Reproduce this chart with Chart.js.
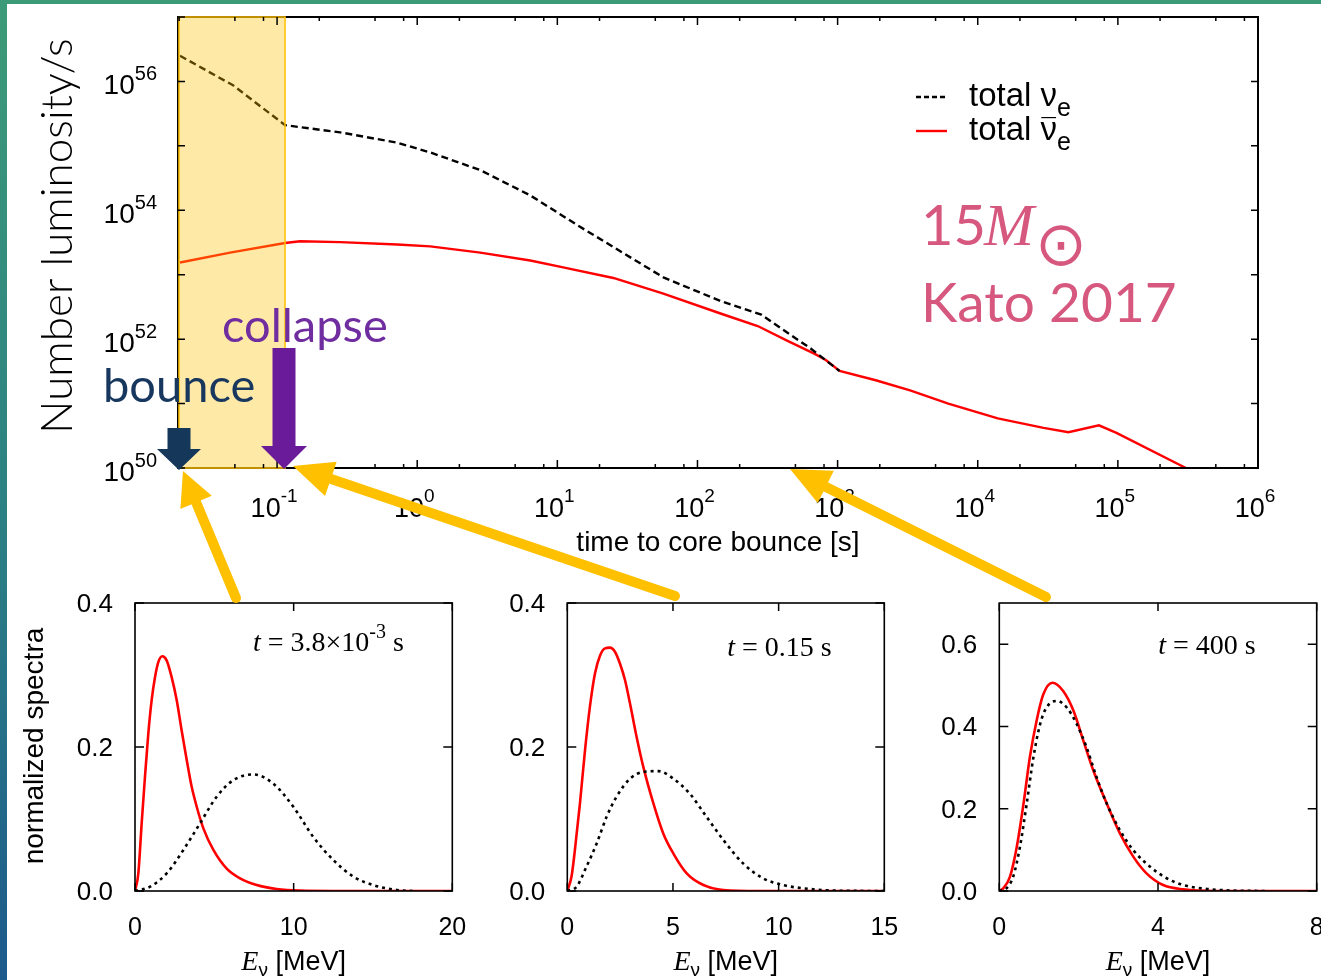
<!DOCTYPE html>
<html>
<head>
<meta charset="utf-8">
<script src="https://cdn.jsdelivr.net/npm/chart.js@4.4.1/dist/chart.umd.min.js"></script>
<style>
  html, body { margin: 0; padding: 0; }
  body {
    width: 1321px; height: 980px; overflow: hidden; position: relative;
    background: linear-gradient(180deg, #3c9b77 0%, #2b7f84 55%, #1d5a8c 100%);
  }
  #panel { position: absolute; left: 7px; top: 4px; right: 0; bottom: 0; background: #fff; }
  canvas { position: absolute; }
  #notes { left: 0; top: 0; pointer-events: none; z-index: 5; }
</style>
</head>
<body>
<div id="panel"></div>
<canvas id="main" width="1321" height="580" style="left:0;top:0"></canvas>
<canvas id="s1" width="470" height="400" style="left:0;top:580px"></canvas>
<canvas id="s2" width="440" height="400" style="left:470px;top:580px"></canvas>
<canvas id="s3" width="411" height="400" style="left:910px;top:580px"></canvas>
<canvas id="notes" width="1321" height="980"></canvas>

<script>
// ---- main panel: number luminosity vs time to core bounce ----
const nueTime = [0.0203, 0.0485, 0.114, 0.146, 0.282, 0.72, 1.24, 2.82, 6.41, 14.6, 33.2, 57.1, 146, 285, 389, 646, 804, 1033];
const nueLum  = [2.5e56, 8.7e55, 2.1e55, 1.95e55, 1.62e55, 1.12e55, 7.9e54, 4.2e54, 1.7e54, 5.5e53, 1.86e53, 9.1e52, 3.9e52, 2.4e52, 1.5e52, 7.1e51, 4.9e51, 3.2e51];
const anueTime = [0.0203, 0.0462, 0.114, 0.146, 0.282, 0.72, 1.24, 2.82, 6.41, 11.0, 25.1, 57.1, 146, 269, 443, 687, 828, 1033, 1871, 3289, 6166, 13900, 29500, 44400, 73300, 97700, 306000, 400000];
const anueLum  = [1.55e53, 2.2e53, 3.1e53, 3.3e53, 3.2e53, 2.95e53, 2.75e53, 2.2e53, 1.66e53, 1.3e53, 8.9e52, 5.1e52, 2.5e52, 1.6e52, 9.3e51, 5.9e51, 4.7e51, 3.2e51, 2.3e51, 1.6e51, 1.0e51, 5.9e50, 4.2e50, 3.6e50, 4.6e50, 3.5e50, 1.0e50, 7.5e49];
const timeDecades = [-1, 0, 1, 2, 3, 4, 5, 6];
const timeMinor = [2, 5, 8];
const lumDecades = [50, 51, 52, 53, 54, 55, 56, 57];
const lumLabelDecades = [50, 52, 54, 56];

// ---- spectra panels (E in MeV, normalized spectra) ----
const p1NueE  = [0, 0.95, 2.0, 3.05, 4.1, 5.15, 6.2, 7.46, 8.72, 9.98, 11.24, 12.5, 13.76, 15.0, 16.5, 17.5];
const p1NueF  = [0, 0.006, 0.0245, 0.057, 0.094, 0.131, 0.154, 0.162, 0.149, 0.117, 0.075, 0.043, 0.020, 0.0083, 0.0014, 0];
const p1AnueE = [0, 0.21, 0.42, 0.63, 0.84, 1.05, 1.26, 1.47, 1.72, 2.0, 2.31, 2.63, 2.94, 3.26, 3.57, 3.89, 4.31, 4.94, 5.78, 6.62, 7.67, 8.93, 10.4, 12.5, 20];
const p1AnueF = [0, 0.0245, 0.094, 0.159, 0.219, 0.265, 0.297, 0.318, 0.326, 0.320, 0.297, 0.265, 0.223, 0.182, 0.145, 0.117, 0.087, 0.057, 0.031, 0.0176, 0.0083, 0.0028, 0.0005, 0, 0];

const p2NueE  = [0, 0.44, 0.91, 1.39, 1.86, 2.33, 2.97, 3.6, 4.31, 5.02, 5.8, 6.59, 7.38, 8.33, 9.27, 10.2, 11.48, 12.74, 15];
const p2NueF  = [0, 0.006, 0.034, 0.066, 0.103, 0.131, 0.156, 0.1655, 0.1665, 0.156, 0.135, 0.103, 0.071, 0.038, 0.0176, 0.0083, 0.0028, 0.0005, 0];
const p2AnueE = [0, 0.2, 0.36, 0.6, 0.84, 1.07, 1.31, 1.55, 1.78, 2.02, 2.26, 2.49, 2.73, 2.97, 3.28, 3.6, 4.07, 4.54, 5.02, 5.65, 6.44, 7.38, 9.1, 15];
const p2AnueF = [0, 0.02, 0.057, 0.122, 0.196, 0.256, 0.302, 0.327, 0.337, 0.338, 0.332, 0.316, 0.293, 0.26, 0.214, 0.172, 0.122, 0.08, 0.052, 0.0245, 0.0083, 0.0014, 0, 0];

const p3NueE  = [0, 0.18, 0.35, 0.52, 0.69, 0.86, 1.03, 1.19, 1.45, 1.7, 1.95, 2.2, 2.45, 2.71, 3.04, 3.38, 3.8, 4.22, 4.64, 5.23, 5.9, 6.74];
const p3NueF  = [0, 0.0065, 0.035, 0.107, 0.212, 0.325, 0.406, 0.446, 0.462, 0.446, 0.406, 0.349, 0.277, 0.212, 0.148, 0.099, 0.059, 0.031, 0.0145, 0.005, 0.001, 0];
const p3AnueE = [0, 0.1, 0.27, 0.44, 0.61, 0.77, 0.94, 1.11, 1.34, 1.61, 1.87, 2.12, 2.37, 2.71, 3.04, 3.38, 3.71, 4.13, 4.64, 5.48, 8];
const p3AnueF = [0, 0.0065, 0.035, 0.107, 0.212, 0.325, 0.414, 0.478, 0.506, 0.486, 0.438, 0.365, 0.293, 0.212, 0.14, 0.083, 0.043, 0.0145, 0.004, 0, 0];

const SANS = '"Liberation Sans", Arial, sans-serif';
const SERIF = '"Liberation Serif", "Times New Roman", serif';
const SLIDE = 'Lato, "Open Sans", sans-serif';

const zip = (xs, ys) => xs.map((v, i) => ({ x: v, y: ys[i] }));

function rich(ctx, parts, x, y, align) {
  ctx.textAlign = 'left';
  let w = 0;
  parts.forEach(p => { ctx.font = p.font; p.w = ctx.measureText(p.t).width; w += p.w + (p.gap || 0); });
  let cx = align === 'center' ? x - w / 2 : align === 'right' ? x - w : x;
  parts.forEach(p => {
    ctx.font = p.font;
    ctx.fillText(p.t, cx, y + (p.dy || 0));
    cx += p.w + (p.gap || 0);
  });
  return cx;
}

// frame, inward ticks on all sides, labels, legend
const framePlugin = {
  id: 'frame',
  afterDatasetsDraw(chart, args, o) {
    const { ctx, chartArea: a, scales: { x, y } } = chart;
    ctx.save();
    if (o.shadeTo) {
      const xr = x.getPixelForValue(o.shadeTo);
      ctx.fillStyle = 'rgba(255,192,0,0.35)';
      ctx.fillRect(a.left, a.top, xr - a.left, a.bottom - a.top);
    }
    ctx.strokeStyle = '#000';
    ctx.lineWidth = o.frameWidth;
    ctx.strokeRect(a.left, a.top, a.right - a.left, a.bottom - a.top);
    if (o.shadeTo) {
      const xr = x.getPixelForValue(o.shadeTo);
      ctx.strokeStyle = '#ffc000';
      ctx.lineWidth = 1.5;
      ctx.strokeRect(a.left + 1, a.top, xr - a.left - 1, a.bottom - a.top);
      ctx.strokeStyle = '#000';
    }
    ctx.lineWidth = o.tickWidth;
    ctx.beginPath();
    o.xTicks.forEach(t => {
      const px = x.getPixelForValue(t.v);
      if (px < a.left - 0.5 || px > a.right + 0.5) return;
      ctx.moveTo(px, a.bottom); ctx.lineTo(px, a.bottom - t.len);
      ctx.moveTo(px, a.top); ctx.lineTo(px, a.top + t.len);
    });
    o.yTicks.forEach(t => {
      const py = y.getPixelForValue(t.v);
      ctx.moveTo(a.left, py); ctx.lineTo(a.left + t.len, py);
      ctx.moveTo(a.right, py); ctx.lineTo(a.right - t.len, py);
    });
    ctx.stroke();

    ctx.fillStyle = '#000';
    ctx.textBaseline = 'alphabetic';
    o.xTicks.forEach(t => {
      if (t.label == null) return;
      const px = x.getPixelForValue(t.v);
      if (t.pow) {
        rich(ctx, [{ t: '10', font: '27px ' + SANS }, { t: t.label, font: '19px ' + SANS, dy: -15 }], px - 3, a.bottom + o.xLabelDy, 'center');
      } else {
        rich(ctx, [{ t: t.label, font: '25px ' + SANS }], px, a.bottom + o.xLabelDy, 'center');
      }
    });
    o.yTicks.forEach(t => {
      if (t.label == null) return;
      const py = y.getPixelForValue(t.v);
      if (t.pow) {
        rich(ctx, [{ t: '10', font: '28px ' + SANS }, { t: t.label, font: '20px ' + SANS, dy: -14 }], a.left - 21, py + 13, 'right');
      } else {
        rich(ctx, [{ t: t.label, font: '26px ' + SANS }], a.left - 22, py + 9, 'right');
      }
    });

    if (o.xTitle) rich(ctx, o.xTitle, (a.left + a.right) / 2, o.xTitleY, 'center');
    if (o.yTitle) {
      ctx.save();
      ctx.translate(o.yTitle.x, o.yTitle.y);
      ctx.rotate(-Math.PI / 2);
      ctx.font = o.yTitle.font;
      ctx.textAlign = 'center';
      ctx.fillText(o.yTitle.text, 0, 0);
      ctx.restore();
    }
    if (o.note) rich(ctx, o.note.parts, a.left + o.note.dx, a.top + o.note.dy, 'left');

    if (o.legend) {
      chart.data.datasets.forEach((ds, i) => {
        const ly = o.legend.y + i * o.legend.step;
        ctx.strokeStyle = ds.borderColor;
        ctx.lineWidth = ds.borderWidth;
        ctx.setLineDash(ds.legendDash || []);
        ctx.beginPath();
        ctx.moveTo(o.legend.x, ly); ctx.lineTo(o.legend.x + 31, ly);
        ctx.stroke();
        ctx.setLineDash([]);
        ctx.fillStyle = '#000';
        const [word, sub] = ds.label.split('_');
        const nu = word.slice(-1);
        const F = '33px ' + SANS;
        const xNu = rich(ctx, [{ t: word.slice(0, -1), font: F }], o.legend.x + 53, ly + 9, 'left');
        ctx.font = F;
        const wNu = ctx.measureText(nu).width;
        ctx.fillText(nu, xNu, ly + 9);
        if (ds.bar) {
          ctx.textAlign = 'center';
          ctx.font = '26px ' + SANS;
          ctx.fillText('\u00AF', xNu + wNu / 2, ly + 6);
          ctx.textAlign = 'left';
        }
        rich(ctx, [{ t: sub, font: '25px ' + SANS }], xNu + wNu, ly + 19, 'left');
      });
    }
    ctx.restore();
  }
};

// ---------- main chart ----------
const xMin = 0.01963, xMax = 1e6;
const xTicksMain = [];
timeDecades.forEach(n => xTicksMain.push({ v: Math.pow(10, n), len: 8, label: String(n), pow: true }));
[-2, -1, 0, 1, 2, 3, 4, 5].forEach(n => timeMinor.forEach(m => {
  const v = m * Math.pow(10, n);
  if (v >= xMin && v <= xMax) xTicksMain.push({ v, len: 4 });
}));
const yTicksMain = lumDecades.map(n => ({
  v: Math.pow(10, n), len: 7,
  label: lumLabelDecades.includes(n) ? String(n) : null, pow: true
}));

new Chart(document.getElementById('main'), {
  type: 'line',
  data: {
    datasets: [
      { label: 'total \u03BD_e', data: zip(nueTime, nueLum), borderColor: '#000', borderWidth: 2.4, borderDash: [7, 4], legendDash: [5, 3], pointRadius: 0, tension: 0 },
      { label: 'total \u03BD_e', bar: true, data: zip(anueTime, anueLum), borderColor: '#ff0000', borderWidth: 2.4, pointRadius: 0, tension: 0 }
    ]
  },
  options: {
    responsive: false, animation: false, devicePixelRatio: 1,
    layout: { padding: { left: 178, top: 17, right: 63, bottom: 112 } },
    plugins: {
      legend: { display: false }, tooltip: { enabled: false },
      frame: {
        frameWidth: 2, tickWidth: 1.5,
        xTicks: xTicksMain, yTicks: yTicksMain, xLabelDy: 49,
        shadeTo: 0.114,
        xTitle: [{ t: 'time to core bounce [s]', font: '28px ' + SANS }], xTitleY: 551,
        legend: { x: 916, y: 97, step: 34 }
      }
    },
    scales: {
      x: { type: 'logarithmic', min: xMin, max: xMax, display: false },
      y: { type: 'logarithmic', min: 1e50, max: 1e57, display: false }
    }
  },
  plugins: [framePlugin]
});

// ---------- spectra charts ----------
function spectrum(id, pad, xMaxS, xStep, yMaxS, nueE, nueF, anueE, anueF, note, withTitle) {
  const xTicks = [];
  for (let v = 0; v <= xMaxS + 1e-9; v += xStep) xTicks.push({ v, len: 8, label: String(v) });
  const yTicks = [];
  for (let k = 0; k * 0.2 <= yMaxS + 1e-9; k++) yTicks.push({ v: k * 0.2, len: 9, label: (k * 0.2).toFixed(1) });
  new Chart(document.getElementById(id), {
    type: 'line',
    data: {
      datasets: [
        { label: 'nue', data: zip(nueE, nueF), borderColor: '#000', borderWidth: 2.6, borderDash: [3, 4], pointRadius: 0, cubicInterpolationMode: 'monotone' },
        { label: 'anue', data: zip(anueE, anueF), borderColor: '#ff0000', borderWidth: 2.6, pointRadius: 0, cubicInterpolationMode: 'monotone' }
      ]
    },
    options: {
      responsive: false, animation: false, devicePixelRatio: 1,
      layout: { padding: pad },
      plugins: {
        legend: { display: false }, tooltip: { enabled: false },
        frame: {
          frameWidth: 1.6, tickWidth: 1.5,
          xTicks, yTicks, xLabelDy: 44,
          xTitle: [
            { t: 'E', font: 'italic 28px ' + SERIF },
            { t: '\u03BD', font: '19px ' + SANS, dy: 6 },
            { t: ' [MeV]', font: '27px ' + SANS }
          ],
          xTitleY: 390,
          yTitle: withTitle ? { text: 'normalized spectra', font: '28px ' + SANS, x: 43, y: 166 } : null,
          note
        }
      },
      scales: {
        x: { type: 'linear', min: 0, max: xMaxS, display: false },
        y: { type: 'linear', min: 0, max: yMaxS, display: false }
      }
    },
    plugins: [framePlugin]
  });
}

const noteFont = '28px ' + SERIF, noteIt = 'italic 28px ' + SERIF;
spectrum('s1', { left: 135, right: 17.7, top: 23, bottom: 89 }, 20, 10, 0.4, p1NueE, p1NueF, p1AnueE, p1AnueF,
  { dx: 118, dy: 48, parts: [{ t: 't', font: noteIt }, { t: ' = 3.8\u00D710', font: noteFont }, { t: '-3', font: '20px ' + SERIF, dy: -13 }, { t: ' s', font: noteFont }] }, true);
spectrum('s2', { left: 97.3, right: 25.7, top: 23, bottom: 89 }, 15, 5, 0.4, p2NueE, p2NueF, p2AnueE, p2AnueF,
  { dx: 160, dy: 53, parts: [{ t: 't', font: noteIt }, { t: ' = 0.15 s', font: noteFont }] }, false);
spectrum('s3', { left: 89.3, right: 4.3, top: 23, bottom: 89 }, 8, 4, 0.7, p3NueE, p3NueF, p3AnueE, p3AnueF,
  { dx: 159, dy: 51, parts: [{ t: 't', font: noteIt }, { t: ' = 400 s', font: noteFont }] }, false);

// ---------- slide annotations ----------
const n = document.getElementById('notes').getContext('2d');

function fatArrow(x1, y1, x2, y2, w, hl, hw, color) {
  const dx = x2 - x1, dy = y2 - y1, L = Math.hypot(dx, dy);
  const ux = dx / L, uy = dy / L, bx = x2 - ux * hl, by = y2 - uy * hl;
  n.strokeStyle = color; n.fillStyle = color;
  n.lineWidth = w; n.lineCap = 'round';
  n.beginPath(); n.moveTo(x1, y1); n.lineTo(bx + ux * 2, by + uy * 2); n.stroke();
  n.beginPath();
  n.moveTo(x2, y2);
  n.lineTo(bx - uy * hw / 2, by + ux * hw / 2);
  n.lineTo(bx + uy * hw / 2, by - ux * hw / 2);
  n.closePath(); n.fill();
}
function blockArrow(cx, top, shaftW, headTop, headW, tip, color) {
  n.fillStyle = color;
  n.beginPath();
  n.moveTo(cx - shaftW / 2, top); n.lineTo(cx + shaftW / 2, top);
  n.lineTo(cx + shaftW / 2, headTop); n.lineTo(cx + headW / 2, headTop);
  n.lineTo(cx, tip); n.lineTo(cx - headW / 2, headTop);
  n.lineTo(cx - shaftW / 2, headTop); n.closePath(); n.fill();
}

fatArrow(236, 598, 183, 471, 10, 34, 34, '#ffc000');
fatArrow(675, 596, 293, 466, 10, 40, 36, '#ffc000');
fatArrow(1046, 597, 790, 469, 10, 40, 36, '#ffc000');
blockArrow(179, 428, 23, 449, 44, 470, '#14375a');
blockArrow(284, 348, 23, 446, 46, 469, '#6a1b9a');

n.textAlign = 'left'; n.textBaseline = 'alphabetic';
n.fillStyle = '#6f2da0'; n.font = '400 47px ' + SLIDE; n.fillText('collapse', 222, 342);
n.fillStyle = '#17375e'; n.fillText('bounce', 103, 402);

n.fillStyle = '#d6587f';
n.font = '400 56px ' + SLIDE; n.fillText('15', 921, 245);
n.font = 'italic 60px ' + SERIF; n.fillText('M', 984, 245);
n.font = '62px "DejaVu Sans"'; n.textBaseline = 'middle'; n.fillText('\u2299', 1035, 249);
n.textBaseline = 'alphabetic';
n.font = '400 55px ' + SLIDE; n.fillText('Kato 2017', 921, 322);

n.save();
n.translate(72, 236); n.rotate(-Math.PI / 2);
n.fillStyle = '#000'; n.font = '300 44px ' + SLIDE; n.textAlign = 'center';
n.fillText('Number luminosity/s', 0, 0);
n.restore();
</script>
</body>
</html>
